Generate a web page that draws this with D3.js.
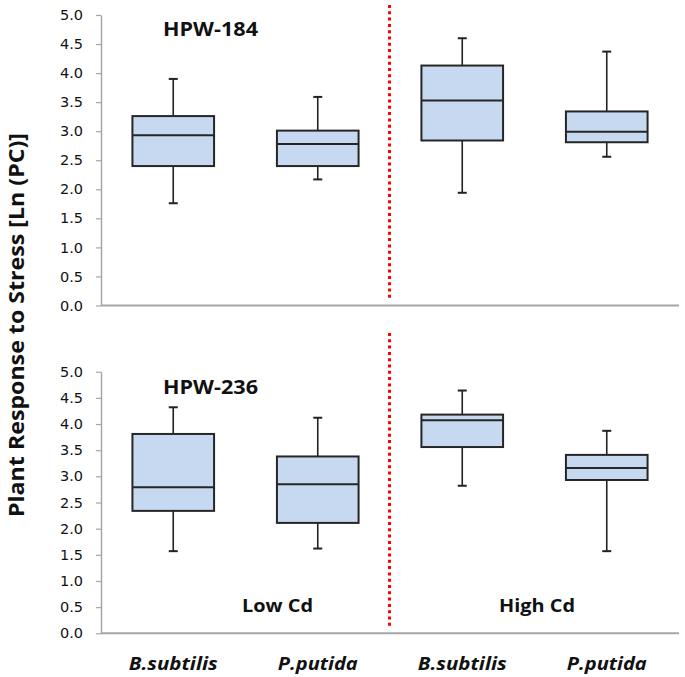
<!DOCTYPE html>
<html>
<head>
<meta charset="utf-8">
<script src="https://cdn.jsdelivr.net/npm/d3@7"></script>
<style>
  body { margin: 0; background: #fff; }
  svg { display: block; }
</style>
</head>
<body>
<svg id="chart" width="685" height="677"></svg>
<script>
// ---- Data ----
const categories = ["Low B.subtilis", "Low P.putida", "High B.subtilis", "High P.putida"];
const categoryLabels = ["B.subtilis", "P.putida", "B.subtilis", "P.putida"];
const yTicks = [0, 0.5, 1, 1.5, 2, 2.5, 3, 3.5, 4, 4.5, 5];

// HPW-184 (top panel)
const hpw184Low    = [1.76, 2.17, 1.94, 2.56];
const hpw184Q1     = [2.40, 2.40, 2.84, 2.81];
const hpw184Median = [2.93, 2.78, 3.53, 2.99];
const hpw184Q3     = [3.26, 3.01, 4.13, 3.34];
const hpw184High   = [3.90, 3.59, 4.60, 4.37];

// HPW-236 (bottom panel)
const hpw236Low    = [1.57, 1.62, 2.82, 1.57];
const hpw236Q1     = [2.34, 2.11, 3.56, 2.93];
const hpw236Median = [2.79, 2.85, 4.07, 3.16];
const hpw236Q3     = [3.81, 3.38, 4.18, 3.41];
const hpw236High   = [4.32, 4.12, 4.64, 3.87];

const panelTitles = ["HPW-184", "HPW-236"];
const conditionLabels = ["Low Cd", "High Cd"];

const svg = d3.select("#chart");

const x = d3.scaleBand().domain(categories).range([101, 679]).paddingInner(0).paddingOuter(0);
const boxW = x.bandwidth() * 0.565;
const capW = 9;

const panels = [
  { title: panelTitles[0], low: hpw184Low, q1: hpw184Q1, med: hpw184Median, q3: hpw184Q3, high: hpw184High,
    y: d3.scaleLinear().domain([0, 5]).range([305.5, 15]), titleY: 36, sepTop: 5, sepBot: 298 },
  { title: panelTitles[1], low: hpw236Low, q1: hpw236Q1, med: hpw236Median, q3: hpw236Q3, high: hpw236High,
    y: d3.scaleLinear().domain([0, 5]).range([633.3, 371.7]), titleY: 394, sepTop: 333, sepBot: 627 }
];

const font = "'Open Sans', 'DejaVu Sans', sans-serif";

panels.forEach((p, pi) => {
  const g = svg.append("g");
  // y axis
  const yAxis = d3.axisLeft(p.y).tickValues(yTicks).tickFormat(d3.format(".1f"))
    .tickSizeInner(5).tickSizeOuter(0).tickPadding(13);
  const ya = g.append("g").attr("transform", "translate(101,0)").call(yAxis);
  ya.select(".domain").attr("stroke", "#a6a6a6").attr("stroke-width", 1.5);
  ya.selectAll(".tick line").attr("stroke", "#a6a6a6").attr("stroke-width", 1.2);
  ya.selectAll(".tick text").attr("font-family", "'DejaVu Sans', Verdana, sans-serif")
    .attr("font-size", 14.5).attr("fill", "#111");

  // x axis baseline
  g.append("line").attr("x1", 101).attr("x2", 679)
    .attr("y1", p.y(0)).attr("y2", p.y(0))
    .attr("stroke", "#a6a6a6").attr("stroke-width", 2);

  // separator red dotted line
  const sepX = x(categories[2]);
  g.append("line").attr("x1", sepX - 0.5).attr("x2", sepX - 0.5)
    .attr("y1", p.sepTop).attr("y2", p.sepBot)
    .attr("stroke", "#ff0000").attr("stroke-width", 3)
    .attr("stroke-dasharray", "3,3.3");

  // boxes
  categories.forEach((c, i) => {
    const cx = x(c) + x.bandwidth() / 2;
    const bg = g.append("g");
    bg.append("line").attr("x1", cx).attr("x2", cx)
      .attr("y1", p.y(p.high[i])).attr("y2", p.y(p.q3[i]))
      .attr("stroke", "#222").attr("stroke-width", 1.6);
    bg.append("line").attr("x1", cx).attr("x2", cx)
      .attr("y1", p.y(p.q1[i])).attr("y2", p.y(p.low[i]))
      .attr("stroke", "#222").attr("stroke-width", 1.6);
    bg.append("line").attr("x1", cx - capW / 2).attr("x2", cx + capW / 2)
      .attr("y1", p.y(p.high[i])).attr("y2", p.y(p.high[i]))
      .attr("stroke", "#222").attr("stroke-width", 2);
    bg.append("line").attr("x1", cx - capW / 2).attr("x2", cx + capW / 2)
      .attr("y1", p.y(p.low[i])).attr("y2", p.y(p.low[i]))
      .attr("stroke", "#222").attr("stroke-width", 2);
    bg.append("rect").attr("x", cx - boxW / 2).attr("width", boxW)
      .attr("y", p.y(p.q3[i])).attr("height", p.y(p.q1[i]) - p.y(p.q3[i]))
      .attr("fill", "#c6d9f1").attr("stroke", "#262626").attr("stroke-width", 2);
    bg.append("line").attr("x1", cx - boxW / 2).attr("x2", cx + boxW / 2)
      .attr("y1", p.y(p.med[i])).attr("y2", p.y(p.med[i]))
      .attr("stroke", "#262626").attr("stroke-width", 2);
  });

  // panel title
  g.append("text").attr("x", 210.5).attr("y", p.titleY)
    .attr("text-anchor", "middle").attr("font-family", font)
    .attr("font-weight", "bold").attr("font-size", 20).attr("fill", "#111")
    .attr("textLength", 95).attr("lengthAdjust", "spacingAndGlyphs")
    .text(p.title);
});

// condition labels (bottom panel)
svg.append("text").attr("x", 277.5).attr("y", 612).attr("text-anchor", "middle")
  .attr("font-family", font).attr("font-weight", "bold").attr("font-size", 18.5)
  .attr("textLength", 71).attr("lengthAdjust", "spacingAndGlyphs")
  .attr("fill", "#111").text(conditionLabels[0]);
svg.append("text").attr("x", 537).attr("y", 612).attr("text-anchor", "middle")
  .attr("font-family", font).attr("font-weight", "bold").attr("font-size", 18.5)
  .attr("textLength", 76).attr("lengthAdjust", "spacingAndGlyphs")
  .attr("fill", "#111").text(conditionLabels[1]);

// x category labels
const labelLens = [89, 80, 89, 80];
categories.forEach((c, i) => {
  svg.append("text").attr("x", x(c) + x.bandwidth() / 2).attr("y", 670)
    .attr("text-anchor", "middle").attr("font-family", font)
    .attr("font-weight", "bold").attr("font-style", "italic").attr("font-size", 18.5)
    .attr("textLength", labelLens[i]).attr("lengthAdjust", "spacingAndGlyphs")
    .attr("fill", "#111").text(categoryLabels[i]);
});

// y axis title
svg.append("text").attr("transform", "translate(24,325) rotate(-90)")
  .attr("text-anchor", "middle").attr("font-family", font)
  .attr("font-weight", "bold").attr("font-size", 21.5).attr("fill", "#111")
  .attr("textLength", 384).attr("lengthAdjust", "spacingAndGlyphs")
  .text("Plant Response to Stress [Ln (PC)]");
</script>
</body>
</html>
